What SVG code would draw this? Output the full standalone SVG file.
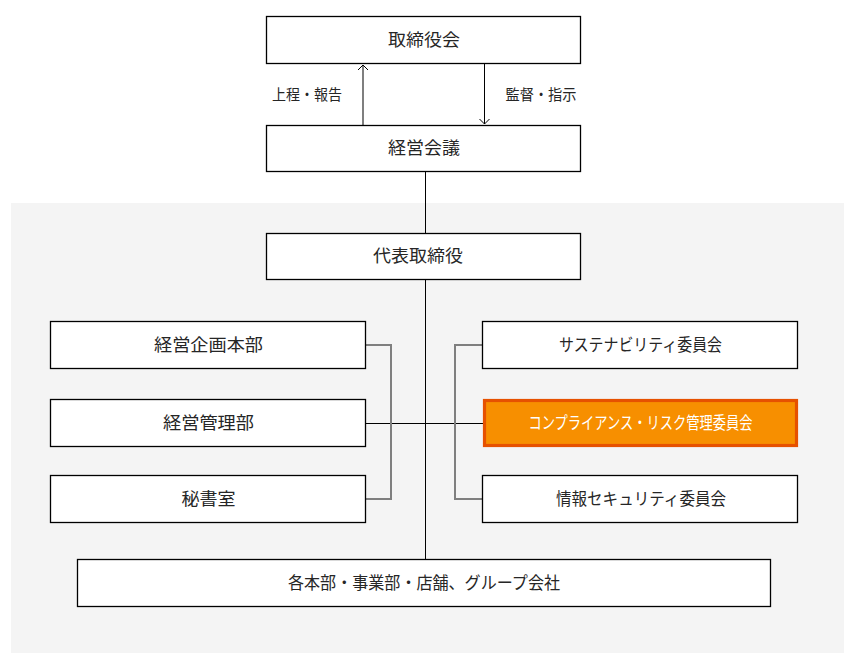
<svg xmlns="http://www.w3.org/2000/svg" width="858" height="668" viewBox="0 0 858 668">
<style>
.box{fill:#fff;stroke:#000;stroke-width:1.3}
.t{font-family:"Noto Sans CJK JP","Noto Sans",sans-serif;font-size:17px;fill:#262626;text-anchor:middle}
.lbl{font-family:"Noto Sans CJK JP","Noto Sans",sans-serif;font-size:15px;fill:#262626;text-anchor:middle}
.main{stroke:#000;stroke-width:1;fill:none}
.br{stroke:#7f7f7f;stroke-width:2;fill:none}
</style>
<rect x="11" y="203" width="833" height="450" fill="#f4f4f4"/>
<g id="connectors">
<line class="main" x1="425.5" y1="172" x2="425.5" y2="559"/>
<line class="main" x1="365" y1="423.5" x2="483" y2="423.5"/>
<polyline class="br" points="365,345 391,345 391,499 365,499"/>
<polyline class="br" points="482,345 455,345 455,499 482,499"/>
<line x1="363" y1="125" x2="363" y2="66" stroke="#7f7f7f" stroke-width="2"/>
<path d="M358,70 L363,65 L368,70" fill="none" stroke="#000" stroke-width="1"/>
<line x1="484.5" y1="64" x2="484.5" y2="124" stroke="#000" stroke-width="1"/>
<path d="M479.5,119 L484.5,124 L489.5,119" fill="none" stroke="#000" stroke-width="1"/>
<text class="lbl" x="307" y="100" textLength="70" lengthAdjust="spacingAndGlyphs">上程・報告</text>
<text class="lbl" x="541" y="100" textLength="71" lengthAdjust="spacingAndGlyphs">監督・指示</text>
</g>
<g id="n-board"><rect class="box" x="266.5" y="16.5" width="314" height="47"/><text class="t" x="424" y="46" textLength="72" lengthAdjust="spacingAndGlyphs">取締役会</text></g>
<g id="n-mgmt"><rect class="box" x="266.5" y="125.5" width="314" height="46"/><text class="t" x="424" y="154" textLength="72" lengthAdjust="spacingAndGlyphs">経営会議</text></g>
<g id="n-ceo"><rect class="box" x="266.5" y="233.5" width="314" height="46"/><text class="t" x="418" y="262" textLength="90" lengthAdjust="spacingAndGlyphs">代表取締役</text></g>
<g id="n-plan"><rect class="box" x="50.5" y="321.5" width="315" height="47"/><text class="t" x="208.5" y="351" textLength="109" lengthAdjust="spacingAndGlyphs">経営企画本部</text></g>
<g id="n-admin"><rect class="box" x="50.5" y="399.5" width="315" height="47"/><text class="t" x="208.5" y="429" textLength="91" lengthAdjust="spacingAndGlyphs">経営管理部</text></g>
<g id="n-sec"><rect class="box" x="50.5" y="475.5" width="315" height="47"/><text class="t" x="208.5" y="505" textLength="54" lengthAdjust="spacingAndGlyphs">秘書室</text></g>
<g id="n-sus"><rect class="box" x="482.5" y="321.5" width="315" height="47"/><text class="t" x="640.5" y="351" textLength="163" lengthAdjust="spacingAndGlyphs">サステナビリティ委員会</text></g>
<g id="n-comp"><rect x="484.5" y="400.5" width="312" height="45" fill="#f78f00" stroke="#e65100" stroke-width="3.2"/><text class="t" x="640.5" y="429" textLength="224" lengthAdjust="spacingAndGlyphs" style="fill:#fff">コンプライアンス・リスク管理委員会</text></g>
<g id="n-info"><rect class="box" x="482.5" y="475.5" width="315" height="47"/><text class="t" x="641" y="505" textLength="170" lengthAdjust="spacingAndGlyphs">情報セキュリティ委員会</text></g>
<g id="n-div"><rect class="box" x="77.5" y="559.5" width="693" height="47"/><text class="t" x="424" y="589" textLength="272" lengthAdjust="spacingAndGlyphs">各本部・事業部・店舗、グループ会社</text></g>
</svg>
